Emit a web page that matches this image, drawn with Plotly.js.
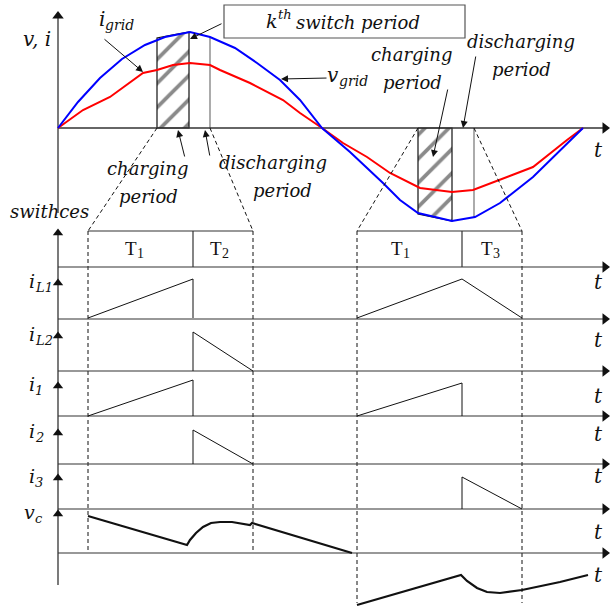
<!DOCTYPE html>
<html><head><meta charset="utf-8">
<script src="https://cdn.plot.ly/plotly-3.0.1.min.js"></script>
<style>html,body{margin:0;padding:0;background:#fff}#plot{width:612px;height:610px}</style>
</head><body><div id="plot"></div>
<script>
// Drawing units: one unit = one pixel, origin at top-left, y grows downward.

// ---- grid waveforms (upper panel) ----
const vGridX = [58, 78, 100, 122, 145, 165, 190, 210, 235, 257, 280, 300, 322, 350, 383, 400, 418, 452, 475, 500, 533, 560, 583];
const vGridY = [128, 102, 78, 59, 45, 37, 32, 37, 48, 63, 80, 100, 128, 152, 183, 200, 213, 221, 217, 203, 177, 150, 128];
const iGridX = [58, 83, 110, 143, 157, 173, 190, 210, 220, 250, 283, 300, 322, 343, 367, 390, 420, 452, 473, 507, 533, 567, 583];
const iGridY = [128, 110, 97, 73, 70, 65, 63, 65, 70, 83, 100, 113, 128, 143, 157, 173, 188, 192, 190, 177, 167, 140, 128];

// charging windows (hatched) and discharging edges
const chargePosX = [157, 157, 172, 189, 189];
const chargePosY = [128, 38, 35, 32, 128];
const chargeNegX = [418, 418, 452, 452];
const chargeNegY = [128, 214, 221, 128];
const dischargeEdgeX = [210, 474];
const dischargeEdgeTopY = [37, 217];

// zoom guide lines from the windows down to the timing rows
const guideX0 = [157, 210, 418, 474];
const guideX1 = [88, 253, 357, 522];

// ---- timing rows ----
const rowY = [267, 319, 371, 416, 464, 509, 553];
const rowBase = ['i', 'i', 'i', 'i', 'i', 'v'];
const rowSub = ['L1', 'L2', '1', '2', '3', 'c'];
const rowLabelY = [283, 336, 386, 433, 478, 514];
const leftPeriod = [88, 193, 253];   // start, T1 end, T2 end
const rightPeriod = [357, 462, 522]; // start, T1 end, T3 end
const periodSub = ['1', '2', '1', '3'];
const periodLabelX = [137, 222, 403, 493];

// ramp waveforms: [x..], [y..] per piece
const iL1Left = [[88, 193, 193], [318, 279, 318]];
const iL1Right = [[357, 462, 522], [318, 279, 318]];
const iL2Left = [[193, 193, 253], [371, 332, 371]];
const i1Left = [[88, 193, 193], [416, 380, 416]];
const i1Right = [[357, 462, 462], [416, 383, 416]];
const i2Left = [[193, 193, 253], [464, 430, 464]];
const i3Right = [[462, 462, 522], [509, 477, 509]];

// capacitor voltage
const vcLeftX = [88, 187, 190, 196, 203, 211, 220, 232, 250, 252, 352];
const vcLeftY = [516, 545, 540, 533, 527, 523, 522, 522, 525, 523, 553];
const vcRightX = [357, 461, 467, 477, 487, 500, 522, 560, 588];
const vcRightY = [605, 575, 581, 588, 592, 593, 590, 582, 575];

// pointer arrows: tail x, tail y, tip x, tip y
const pointers = [
  [103, 38, 143, 72],
  [328, 78, 281, 79],
  [223, 23, 190, 39],
  [185, 158, 178, 130],
  [210, 157, 205, 130],
  [448, 88, 433, 157],
  [476, 55, 463, 128]
];

// free text: text, x, y, size
const labels = [
  ['v, i', 37, 39, 20],
  ['charging', 147, 168, 18],
  ['period', 148, 196, 18],
  ['discharging', 273, 162, 18],
  ['period', 282, 190, 18],
  ['charging', 411, 54, 18],
  ['period', 412, 82, 18],
  ['discharging', 521, 41, 18],
  ['period', 521, 69, 18],
  ['swithces', 49, 211, 18]
];
const tLabelY = [150, 282, 340, 396, 434, 476, 532, 575];

const FONT = 'DejaVu Serif';
const UPRIGHT = 'Liberation Serif';
const traces = [];
const ann = [];

function line(xs, ys, color, width, dash) {
  traces.push({type: 'scatter', mode: 'lines', x: xs, y: ys, hoverinfo: 'skip',
    line: {color: color, width: width, dash: dash || 'solid'}});
}
function heads(xs, ys, symbol, size) {
  traces.push({type: 'scatter', mode: 'markers', x: xs, y: ys, hoverinfo: 'skip',
    marker: {symbol: symbol, size: size, color: '#111', line: {width: 0}}});
}

// hatched charging windows
[[chargePosX, chargePosY], [chargeNegX, chargeNegY]].forEach(function (p) {
  traces.push({type: 'scatter', mode: 'lines', x: p[0].concat([p[0][0]]), y: p[1].concat([p[1][0]]),
    fill: 'toself', fillcolor: 'rgba(0,0,0,0)', hoverinfo: 'skip',
    fillpattern: {shape: '/', fgcolor: '#8a8a8a', bgcolor: 'rgba(0,0,0,0)', size: 17, solidity: 0.22},
    line: {color: '#111', width: 1.2}});
});
// discharging edges
dischargeEdgeX.forEach(function (x, k) { line([x, x], [128, dischargeEdgeTopY[k]], '#888', 1.4); });

// upper axes
line([58, 58], [16, 213], '#333', 1.3);
line([58, 606], [128, 128], '#333', 1.3);
heads([58], [16], 'triangle-up', 10);
heads([605], [128], 'triangle-right', 10);

// grid waveforms
line(iGridX, iGridY, '#ff0000', 2);
line(vGridX, vGridY, '#0000ff', 2);

// guide lines
guideX0.forEach(function (x0, k) { line([x0, guideX1[k]], [128, 231], '#111', 1, '4px,3px'); });

// switch period bars
line([leftPeriod[0], leftPeriod[2]], [231, 231], '#333', 1.2);
line([rightPeriod[0], rightPeriod[2]], [231, 231], '#333', 1.2);
line([leftPeriod[1], leftPeriod[1]], [231, rowY[0]], '#333', 1.2);
line([rightPeriod[1], rightPeriod[1]], [231, rowY[0]], '#333', 1.2);
leftPeriod.concat(rightPeriod).forEach(function (x, k) {
  if (k === 1 || k === 4) return;
  line([x, x], [231, x < 300 ? rowY[6] : 603], '#111', 1, '4px,3px');
});

// timing rows
line([58, 58], [232, 585], '#333', 1.3);
heads([58], [233], 'triangle-up', 9);
heads(rowLabelY.map(function () { return 58; }), rowLabelY, 'triangle-up', 9);
rowY.forEach(function (y) { line([58, 606], [y, y], '#333', 1.2); });
heads(rowY.map(function () { return 605; }), rowY, 'triangle-right', 10);

[iL1Left, iL1Right, iL2Left, i1Left, i1Right, i2Left, i3Right].forEach(function (w) {
  line(w[0], w[1], '#111', 1);
});
line(vcLeftX, vcLeftY, '#111', 2.2);
line(vcRightX, vcRightY, '#111', 2.2);

// pointer arrows
pointers.forEach(function (p) {
  ann.push({x: p[2], y: p[3], ax: p[0], ay: p[1], xref: 'x', yref: 'y', axref: 'x', ayref: 'y',
    text: '', showarrow: true, arrowhead: 2, arrowsize: 1.4, arrowwidth: 1, arrowcolor: '#111', standoff: 0});
});

// text
function txt(t, x, y, size, anchor, italic) {
  ann.push({x: x, y: y, xref: 'x', yref: 'y', text: t, borderpad: 0, borderwidth: 0,
    showarrow: false, xanchor: anchor || 'center', yanchor: 'middle',
    font: {family: italic === false ? UPRIGHT : FONT, size: size, color: '#111',
      style: italic === false ? 'normal' : 'italic'}});
}
// symbol with a lowered (dy > 0) or raised (dy < 0) index, joined at x
function indexed(base, idx, x, y, size, idxSize, dy, italic) {
  txt(base, x, y, size, 'right', italic);
  txt(idx, x, y + dy, idxSize, 'left', italic);
}

labels.forEach(function (l) { txt(l[0], l[1], l[2], l[3]); });
tLabelY.forEach(function (y) { txt('t', 598, y, 20); });
rowBase.forEach(function (b, k) { indexed(b, rowSub[k], 35, rowLabelY[k] - 2, 19, 13, 6); });
periodSub.forEach(function (s, k) { indexed('T', s, periodLabelX[k], 248, 19, 14, 5, false); });
indexed('i', 'grid', 105, 19, 20, 14, 6);
indexed('v', 'grid', 339, 75, 20, 14, 6);
indexed('k', 'th', 278, 21, 19, 13, -7);
txt('switch period', 296, 22, 18, 'left');

const shapes = [{type: 'rect', xref: 'x', yref: 'y', x0: 224, x1: 465, y0: 5, y1: 38,
  line: {color: '#555', width: 1.2}, fillcolor: 'rgba(0,0,0,0)'}];

Plotly.newPlot('plot', traces, {
  width: 612, height: 610, margin: {l: 0, r: 0, t: 0, b: 0},
  paper_bgcolor: '#fff', plot_bgcolor: '#fff', showlegend: false,
  xaxis: {range: [0, 612], visible: false, fixedrange: true},
  yaxis: {range: [610, 0], visible: false, fixedrange: true},
  annotations: ann, shapes: shapes
}, {staticPlot: true});
</script></body></html>
